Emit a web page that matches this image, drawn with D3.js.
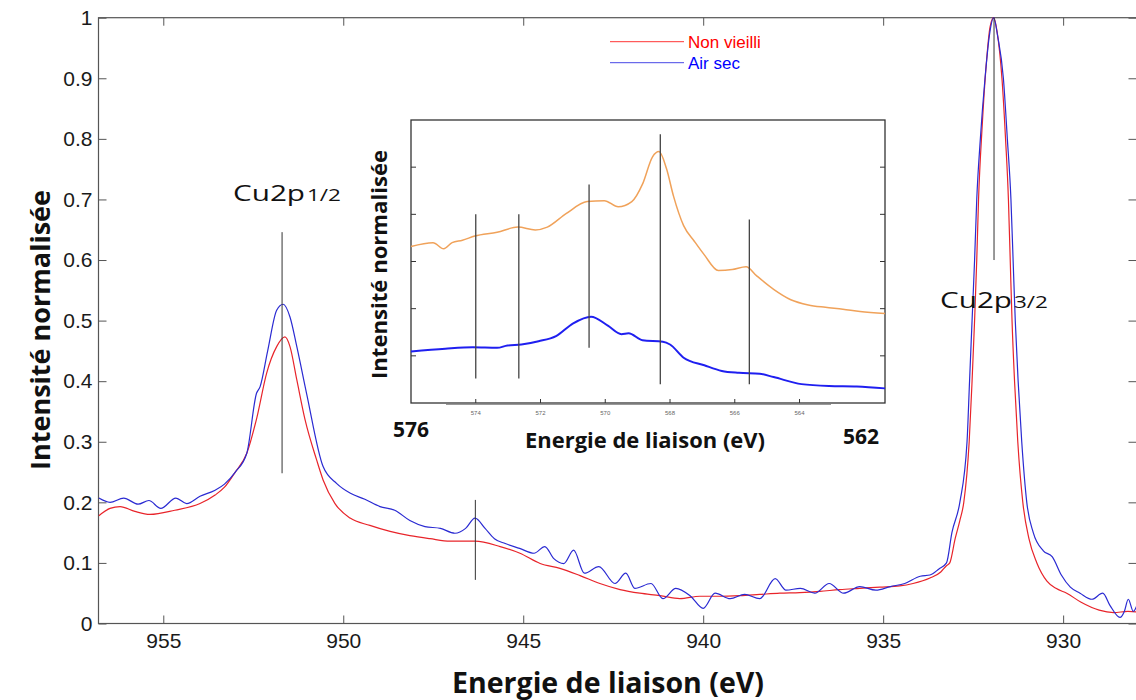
<!DOCTYPE html>
<html><head><meta charset="utf-8">
<script src="https://cdn.jsdelivr.net/npm/d3@7"></script>
<style>body{margin:0;background:#fff}svg{display:block}</style>
</head><body>
<svg id="chart" width="1136" height="700"></svg>
<script>
// ---------- DATA ----------
const xTickValues = [955, 950, 945, 940, 935, 930];
const yTickValues = [0, 0.1, 0.2, 0.3, 0.4, 0.5, 0.6, 0.7, 0.8, 0.9, 1];
const seriesNames = ["Non vieilli", "Air sec"];

// Non vieilli (red): [energy eV, normalised intensity]
const nonVieilli = [[956.79,0.178],[956.48,0.19],[956.2,0.193],[955.79,0.185],[955.37,0.18],[954.68,0.187],[953.98,0.198],[953.56,0.212],[953.3,0.225],[953.0,0.25],[952.68,0.281],[952.4,0.34],[952.13,0.413],[951.85,0.457],[951.62,0.473],[951.48,0.457],[951.29,0.402],[951.06,0.336],[950.74,0.27],[950.56,0.237],[950.23,0.198],[949.81,0.174],[949.26,0.162],[948.7,0.152],[948.15,0.145],[947.59,0.14],[947.03,0.136],[946.34,0.136],[945.64,0.127],[945.09,0.116],[944.53,0.099],[943.98,0.091],[943.42,0.079],[942.87,0.066],[942.31,0.056],[941.76,0.05],[941.2,0.046],[940.65,0.041],[940.09,0.045],[939.54,0.045],[938.98,0.046],[938.43,0.048],[937.87,0.05],[937.32,0.051],[936.76,0.053],[936.21,0.056],[935.65,0.058],[935.09,0.06],[934.54,0.062],[934.17,0.066],[933.7,0.075],[933.4,0.085],[933.25,0.095],[933.15,0.1],[933.0,0.14],[932.87,0.17],[932.76,0.2],[932.61,0.3],[932.53,0.4],[932.46,0.5],[932.4,0.6],[932.35,0.7],[932.25,0.82],[932.14,0.92],[932.03,0.985],[931.93,1.0],[931.83,0.975],[931.7,0.9],[931.6,0.8],[931.52,0.7],[931.47,0.6],[931.42,0.5],[931.35,0.4],[931.26,0.3],[931.12,0.2],[930.95,0.14],[930.73,0.1],[930.45,0.07],[930.2,0.058],[929.9,0.05],[929.5,0.035],[929.0,0.022],[928.6,0.018],[928.2,0.02],[927.92,0.019]];

// Air sec (blue)
const airSec = [[956.79,0.207],[956.48,0.2],[956.1,0.207],[955.7,0.197],[955.4,0.203],[955.07,0.19],[954.65,0.207],[954.35,0.198],[953.98,0.21],[953.56,0.22],[953.3,0.23],[953.0,0.25],[952.68,0.281],[952.41,0.38],[952.31,0.391],[952.1,0.45],[951.85,0.517],[951.67,0.527],[951.48,0.506],[951.29,0.457],[951.02,0.38],[950.56,0.259],[950.18,0.231],[949.8,0.215],[949.4,0.205],[948.98,0.193],[948.57,0.187],[948.15,0.17],[947.73,0.16],[947.3,0.157],[946.9,0.149],[946.6,0.157],[946.34,0.174],[946.06,0.157],[945.8,0.14],[945.5,0.132],[945.1,0.124],[944.7,0.116],[944.4,0.127],[944.15,0.107],[943.87,0.099],[943.6,0.121],[943.3,0.083],[942.9,0.094],[942.45,0.066],[942.15,0.083],[941.9,0.058],[941.45,0.066],[941.12,0.041],[940.76,0.058],[940.35,0.045],[940.0,0.025],[939.67,0.05],[939.25,0.041],[938.85,0.048],[938.43,0.041],[938.0,0.074],[937.7,0.055],[937.3,0.058],[936.9,0.05],[936.5,0.066],[936.1,0.05],[935.65,0.061],[935.2,0.055],[934.8,0.061],[934.4,0.066],[933.97,0.078],[933.7,0.08],[933.45,0.09],[933.24,0.1],[933.09,0.15],[932.87,0.2],[932.67,0.3],[932.6,0.4],[932.53,0.5],[932.46,0.6],[932.4,0.7],[932.3,0.8],[932.17,0.9],[932.05,0.97],[931.93,1.0],[931.82,0.97],[931.66,0.9],[931.55,0.8],[931.45,0.7],[931.39,0.6],[931.33,0.5],[931.25,0.4],[931.15,0.3],[931.01,0.2],[930.83,0.15],[930.55,0.12],[930.3,0.11],[930.05,0.08],[929.8,0.06],[929.53,0.05],[929.2,0.04],[928.9,0.05],[928.7,0.03],[928.42,0.01],[928.3,0.02],[928.19,0.04],[928.05,0.02],[927.92,0.035]];

// marker lines in main chart: [energy, top, bottom]
const mainMarkers = [[951.7,0.646,0.248],[946.33,0.204,0.072],[931.92,1.0,0.6]];

// inset data
const insetTickValues = [574, 572, 570, 568, 566, 564];
const insetOrange = [[576.0,3.32],[575.32,3.40],[574.99,3.27],[574.73,3.40],[574.41,3.45],[574.03,3.54],[573.34,3.62],[572.70,3.73],[572.16,3.67],[571.79,3.73],[571.20,4.02],[570.56,4.27],[570.03,4.29],[569.60,4.16],[569.18,4.27],[568.85,4.64],[568.54,5.22],[568.34,5.33],[568.11,4.97],[567.89,4.38],[567.58,3.76],[567.25,3.43],[566.94,3.14],[566.51,2.81],[566.08,2.83],[565.65,2.89],[565.33,2.70],[564.80,2.41],[564.27,2.19],[563.73,2.08],[563.20,2.03],[562.66,1.99],[562.13,1.94],[561.36,1.90]];
const insetBlue = [[576.0,1.09],[574.94,1.15],[574.09,1.18],[573.34,1.17],[573.02,1.22],[572.59,1.24],[572.06,1.31],[571.52,1.42],[570.99,1.69],[570.44,1.83],[569.92,1.64],[569.50,1.46],[569.28,1.48],[568.85,1.33],[568.22,1.30],[568.00,1.24],[567.58,0.96],[566.94,0.80],[566.40,0.68],[565.87,0.64],[565.23,0.62],[564.80,0.55],[563.94,0.40],[563.09,0.36],[562.23,0.35],[561.36,0.31]];
const insetMarkers = [[574.0,4.0,0.52],[572.67,4.0,0.52],[570.5,4.63,1.17],[568.3,5.70,0.40],[565.55,3.89,0.40]];
const insetYTicks = [1, 2, 3, 4, 5];

// ---------- DRAW ----------
(function () {
const svg = d3.select("#chart");
const pLeft = 98.5, pRight = 1138, pTop = 17.7, pBottom = 623.5;

const x = d3.scaleLinear().domain([956.8, 927.92]).range([pLeft, pRight]);
const y = d3.scaleLinear().domain([0, 1]).range([pBottom, pTop]);

const axisColor = "#555";
const tickFont = "'Liberation Sans', Arial, sans-serif";

function styleAxis(g, showLabels) {
  g.select(".domain").remove();
  g.selectAll(".tick line").attr("stroke", axisColor).attr("stroke-width", 1);
  g.selectAll(".tick text").attr("fill", "#1a1a1a").style("font-family", tickFont).style("font-size", "21px");
  if (!showLabels) g.selectAll(".tick text").remove();
}

svg.append("g").attr("transform", `translate(0,${pBottom})`)
  .call(d3.axisBottom(x).tickValues(xTickValues).tickSize(-8).tickPadding(9.5).tickFormat(d3.format("d")))
  .call(g => styleAxis(g, true));
svg.append("g").attr("transform", `translate(0,${pTop})`)
  .call(d3.axisTop(x).tickValues(xTickValues).tickSize(-8))
  .call(g => styleAxis(g, false));
svg.append("g").attr("transform", `translate(${pLeft},0)`)
  .call(d3.axisLeft(y).tickValues(yTickValues).tickSize(-8).tickPadding(6).tickFormat(d => d === 0 || d === 1 ? d3.format("d")(d) : d3.format(".1f")(d)))
  .call(g => styleAxis(g, true));
svg.append("g").attr("transform", `translate(${pRight - 1.5},0)`)
  .call(d3.axisRight(y).tickValues(yTickValues).tickSize(-8))
  .call(g => styleAxis(g, false));

svg.append("rect").attr("x", pLeft).attr("y", pTop).attr("width", pRight - pLeft).attr("height", pBottom - pTop)
  .attr("fill", "none").attr("stroke", axisColor).attr("stroke-width", 1.2);

const line = d3.line().x(d => x(d[0])).y(d => y(d[1])).curve(d3.curveMonotoneX);
svg.append("path").datum(nonVieilli).attr("d", line).attr("fill", "none").attr("stroke", "#e8242a").attr("stroke-width", 1.2);
svg.append("path").datum(airSec).attr("d", line).attr("fill", "none").attr("stroke", "#2a2ad2").attr("stroke-width", 1.2);

svg.selectAll("line.mk").data(mainMarkers).join("line").attr("class", "mk")
  .attr("x1", d => x(d[0])).attr("x2", d => x(d[0]))
  .attr("y1", d => y(d[1])).attr("y2", d => y(d[2]))
  .attr("stroke", "#333").attr("stroke-width", 1);

const annFont = "'Open Sans', 'Noto Sans', sans-serif";
function peakLabel(xp, yp, sub) {
  svg.append("text").attr("x", xp).attr("y", yp).text("Cu2p")
    .style("font-family", annFont).style("font-size", "22px").attr("fill", "#111")
    .attr("textLength", 72).attr("lengthAdjust", "spacingAndGlyphs");
  svg.append("text").attr("x", xp + 74).attr("y", yp).text(sub)
    .style("font-family", annFont).style("font-size", "17px").attr("fill", "#111")
    .attr("textLength", 34).attr("lengthAdjust", "spacingAndGlyphs");
}
peakLabel(233, 200.7, "1/2");
peakLabel(940, 308, "3/2");

const legendColors = ["#ff3535", "#4848e6"];
const legendText = ["#ff0000", "#0000ff"];
const legendY = [41.7, 62.7];
seriesNames.forEach((n, i) => {
  svg.append("line").attr("x1", 610).attr("x2", 684).attr("y1", legendY[i]).attr("y2", legendY[i])
    .attr("stroke", legendColors[i]).attr("stroke-width", 1);
  svg.append("text").attr("x", 688).attr("y", legendY[i] + 6.3).text(n)
    .style("font-family", tickFont).style("font-size", "17px").attr("fill", legendText[i]);
});

const titleFont = "'Open Sans', 'Noto Sans', sans-serif";
svg.append("text").attr("transform", "translate(50,330) rotate(-90)").attr("text-anchor", "middle")
  .text("Intensité normalisée").style("font-family", titleFont).style("font-weight", "bold").style("font-size", "27px")
  .attr("fill", "#111").attr("textLength", 280).attr("lengthAdjust", "spacingAndGlyphs");
svg.append("text").attr("x", 608).attr("y", 692.7).attr("text-anchor", "middle")
  .text("Energie de liaison (eV)").style("font-family", titleFont).style("font-weight", "bold").style("font-size", "29px")
  .attr("fill", "#111").attr("textLength", 312).attr("lengthAdjust", "spacingAndGlyphs");

// ---------- INSET ----------
const iL = 411, iR = 885, iT = 120, iB = 403;
const xi = d3.scaleLinear().domain([576, 561.36]).range([iL, iR]);
const yi = d3.scaleLinear().domain([0, 6]).range([iB, iT]);
const inset = svg.append("g");
inset.append("rect").attr("x", iL).attr("y", iT).attr("width", iR - iL).attr("height", iB - iT)
  .attr("fill", "#fff").attr("stroke", "#333").attr("stroke-width", 1.3);
inset.append("line").attr("x1", 446).attr("x2", 831).attr("y1", 404.5).attr("y2", 404.5).attr("stroke", "#999").attr("stroke-width", 1);
insetYTicks.forEach(v => {
  inset.append("line").attr("x1", iL).attr("x2", iL + 5).attr("y1", yi(v)).attr("y2", yi(v)).attr("stroke", "#333");
  inset.append("line").attr("x1", iR - 5).attr("x2", iR).attr("y1", yi(v)).attr("y2", yi(v)).attr("stroke", "#333");
});
insetTickValues.forEach(v => {
  inset.append("line").attr("x1", xi(v)).attr("x2", xi(v)).attr("y1", iB).attr("y2", iB - 4).attr("stroke", "#333");
  inset.append("text").attr("x", xi(v)).attr("y", 415).attr("text-anchor", "middle").text(v)
    .style("font-family", tickFont).style("font-size", "6px").attr("fill", "#666");
});
const lineI = d3.line().x(d => xi(d[0])).y(d => yi(d[1])).curve(d3.curveMonotoneX);
inset.append("path").datum(insetOrange).attr("d", lineI).attr("fill", "none").attr("stroke", "#f0a25a").attr("stroke-width", 1.5);
inset.append("path").datum(insetBlue).attr("d", lineI).attr("fill", "none").attr("stroke", "#1f1ff0").attr("stroke-width", 2);
inset.selectAll("line.imk").data(insetMarkers).join("line").attr("class", "imk")
  .attr("x1", d => xi(d[0])).attr("x2", d => xi(d[0]))
  .attr("y1", d => yi(d[1])).attr("y2", d => yi(d[2]))
  .attr("stroke", "#444").attr("stroke-width", 1.3);

inset.append("text").attr("x", 393).attr("y", 437).text("576")
  .style("font-family", titleFont).style("font-weight", "bold").style("font-size", "21px").attr("fill", "#111");
inset.append("text").attr("x", 843).attr("y", 444).text("562")
  .style("font-family", titleFont).style("font-weight", "bold").style("font-size", "21px").attr("fill", "#111");
inset.append("text").attr("x", 645).attr("y", 448).attr("text-anchor", "middle").text("Energie de liaison (eV)")
  .style("font-family", titleFont).style("font-weight", "bold").style("font-size", "21px").attr("fill", "#111")
  .attr("textLength", 240).attr("lengthAdjust", "spacingAndGlyphs");
inset.append("text").attr("transform", "translate(387,264.5) rotate(-90)").attr("text-anchor", "middle")
  .text("Intensité normalisée").style("font-family", titleFont).style("font-weight", "bold").style("font-size", "22px")
  .attr("fill", "#111").attr("textLength", 229).attr("lengthAdjust", "spacingAndGlyphs");
})();
</script>
</body></html>
